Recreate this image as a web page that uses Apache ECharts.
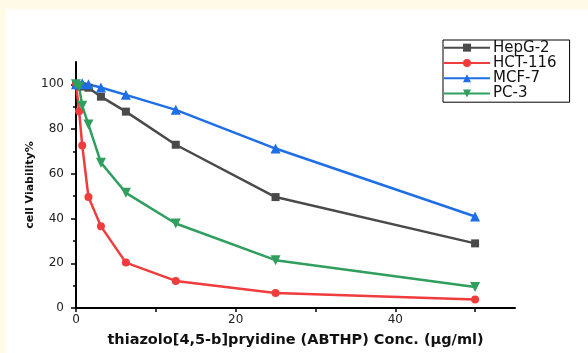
<!DOCTYPE html>
<html>
<head>
<meta charset="utf-8">
<script src="https://cdn.jsdelivr.net/npm/echarts@6/dist/echarts.min.js"></script>
<style>
  html, body { margin: 0; padding: 0; background: #fffbe6; }
  #main { position: absolute; left: 6px; top: 9px; width: 582px; height: 344px; background: #ffffff; }
</style>
</head>
<body>
<div id="main"></div>
<script>
// 浓度 (µg/ml)
var conc = [0, 0.39, 0.78, 1.56, 3.125, 6.25, 12.5, 25, 50];
var hepg2 = [100, 99.5, 99, 98.5, 94.5, 87.8, 73, 49.6, 28.9];
var hct116 = [100, 88, 72.7, 49.6, 36.5, 20.3, 12.1, 6.7, 3.8];
var mcf7 = [100, 100, 100.5, 100, 98.6, 95.3, 88.6, 71.3, 40.9];
var pc3 = [100, 99, 90.4, 82, 65, 51.5, 37.8, 21.4, 9.4];

var xLabels = [0, 20, 40];
var xTicks = [0, 10, 20, 30, 40, 50];
var yLabels = [0, 20, 40, 60, 80, 100];
var yMinor = [10, 30, 50, 70, 90];

var pairs = function(vals) {
	var out = [];
	for (var i = 0; i < conc.length; i++) {
		out.push([conc[i], vals[i]]);
	}
	return out;
};

var font = 'DejaVu Sans, sans-serif';
var myChart = echarts.init(document.getElementById('main'));

var mkSeries = function(name, vals, color, symbol, size, rotate) {
	return {
		name : name,
		type : 'line',
		data : pairs(vals),
		symbol : symbol,
		symbolSize : size,
		symbolRotate : rotate || 0,
		lineStyle : { color : color, width : 2.5 },
		itemStyle : { color : color },
		z : 3
	};
};

var option = {
	animation : false,
	textStyle : { fontFamily : font },
	grid : { left : 70, top : 53, right : 73, bottom : 45 },
	legend : {
		orient : 'vertical',
		left : 437,
		top : 31,
		itemWidth : 46,
		itemHeight : 10,
		itemGap : 0,
		padding : [0, 13, 1, 0],
		borderColor : '#000',
		borderWidth : 1,
		textStyle : { fontSize : 15, lineHeight : 15.3, color : '#111', fontFamily : font, padding : [0, 0, 0, -2] },
		data : [ 'HepG-2', 'HCT-116', 'MCF-7', 'PC-3' ]
	},
	xAxis : [ {
		type : 'value',
		min : 0,
		max : 55,
		name : 'thiazolo[4,5-b]pryidine (ABTHP) Conc. (µg/ml)',
		nameLocation : 'middle',
		nameGap : 25,
		nameTextStyle : { fontSize : 14.5, fontWeight : 'bold', color : '#111' },
		axisLine : { lineStyle : { color : '#000', width : 2 } },
		axisTick : { customValues : xTicks, length : 4, lineStyle : { color : '#000', width : 1.5 } },
		axisLabel : { customValues : xLabels, fontSize : 12, color : '#222', margin : 6 },
		splitLine : { show : false }
	} ],
	yAxis : [ {
		type : 'value',
		min : 0,
		max : 110,
		name : 'cell Viability%',
		nameLocation : 'middle',
		nameGap : 40,
		nameMoveOverlap : false,
		nameTextStyle : { fontSize : 11, fontWeight : 'bold', color : '#111' },
		axisLine : { show : true, lineStyle : { color : '#000', width : 2 } },
		axisTick : { show : true, customValues : yLabels, length : 5, lineStyle : { color : '#000', width : 1.5 } },
		axisLabel : { customValues : yLabels, fontSize : 12, color : '#222', margin : 12 },
		splitLine : { show : false }
	}, {
		type : 'value',
		min : 0,
		max : 110,
		position : 'left',
		axisLine : { show : false },
		axisTick : { show : true, customValues : yMinor, length : 3, lineStyle : { color : '#000', width : 1.5 } },
		axisLabel : { show : false },
		splitLine : { show : false }
	} ],
	series : [
		mkSeries('HepG-2', hepg2, '#4a4a4a', 'rect', 8),
		mkSeries('HCT-116', hct116, '#f03c3c', 'circle', 8),
		mkSeries('MCF-7', mcf7, '#1e6fe6', 'triangle', 10),
		mkSeries('PC-3', pc3, '#2f9e5e', 'triangle', 10, 180)
	]
};
myChart.setOption(option);
</script>
</body>
</html>
